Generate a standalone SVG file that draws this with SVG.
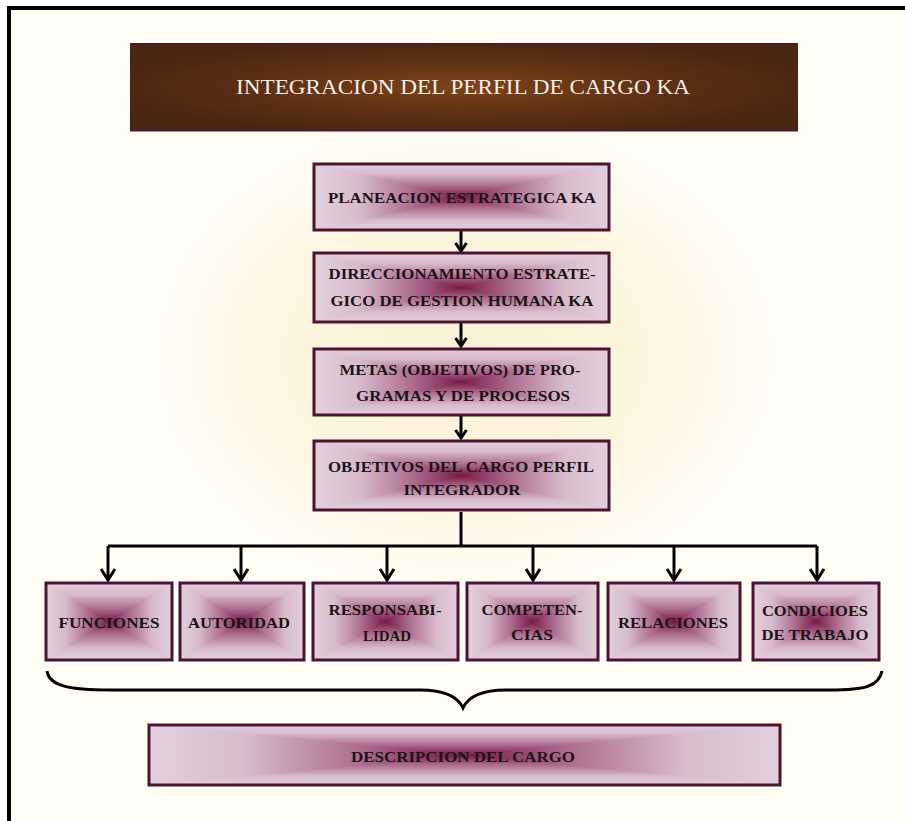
<svg xmlns="http://www.w3.org/2000/svg" width="905" height="821" viewBox="0 0 905 821">
  <defs>
    <!-- page background glow -->
    <radialGradient id="glow" cx="0.5" cy="0.5" r="0.5">
      <stop offset="0" stop-color="#fdf1d6"/>
      <stop offset="0.55" stop-color="#fdf4de"/>
      <stop offset="1" stop-color="#fffdf4"/>
    </radialGradient>
    <!-- title bar fill -->
    <radialGradient id="titleFill" cx="0.5" cy="0.5" r="0.55">
      <stop offset="0" stop-color="#7c4318"/>
      <stop offset="0.55" stop-color="#5e3014"/>
      <stop offset="1" stop-color="#4a2510"/>
    </radialGradient>
    <!-- box shading: four edge-to-centre ramps -->
    <linearGradient id="gT" x1="0" y1="0" x2="0" y2="1">
      <stop offset="0" stop-color="#e3d0dc"/>
      <stop offset="0.3" stop-color="#d8bccc"/>
      <stop offset="0.68" stop-color="#ab6a8d"/>
      <stop offset="1" stop-color="#781a49"/>
    </linearGradient>
    <linearGradient id="gB" href="#gT" x1="0" y1="1" x2="0" y2="0"/>
    <linearGradient id="gL" href="#gT" x1="0" y1="0" x2="1" y2="0"/>
    <linearGradient id="gR" href="#gT" x1="1" y1="0" x2="0" y2="0"/>
    <pattern id="boxFill" patternUnits="objectBoundingBox" patternContentUnits="objectBoundingBox" width="1" height="1">
      <polygon points="0,0 0,1 0.5,0.5" fill="url(#gL)" shape-rendering="crispEdges"/>
      <polygon points="1,0 1,1 0.5,0.5" fill="url(#gR)" shape-rendering="crispEdges"/>
      <polygon points="0,0 1,0 0.5,0.5" fill="url(#gT)" shape-rendering="crispEdges"/>
      <polygon points="0,1 1,1 0.5,0.5" fill="url(#gB)" shape-rendering="crispEdges"/>
    </pattern>
    <marker id="arrowS" markerUnits="userSpaceOnUse" viewBox="-12 -8 14 16" markerWidth="14" markerHeight="16" refX="0" refY="0" orient="auto">
      <path d="M-8,-5.5 L0,0 L-8,5.5" fill="none" stroke="#000" stroke-width="3"/>
    </marker>
    <marker id="arrowL" markerUnits="userSpaceOnUse" viewBox="-14 -9 16 18" markerWidth="16" markerHeight="18" refX="0" refY="0" orient="auto">
      <path d="M-11,-7 L0,0 L-11,7" fill="none" stroke="#000" stroke-width="3"/>
    </marker>
  </defs>
  <style>
    .box { fill: url(#boxFill); stroke: #4a1532; stroke-width: 3; }
    .lbl { font-family: "Liberation Serif", "Times New Roman", serif; font-weight: bold; font-size: 15.5px; fill: #1c1416; text-anchor: middle; }
    .title { font-family: "Liberation Serif", "Times New Roman", serif; font-size: 20px; fill: #f5eee8; text-anchor: middle; }
    .wire { fill: none; stroke: #000; stroke-width: 3; }
  </style>

  <!-- page -->
  <rect width="905" height="821" fill="#ffffff"/>
  <rect x="9" y="8" width="900" height="820" fill="#fffdf4"/>
  <rect x="160" y="120" width="610" height="470" fill="url(#glow)"/>
  <path d="M9,830 V8 H910" fill="none" stroke="#000" stroke-width="4"/>

  <!-- title -->
  <g id="title">
    <rect x="130" y="43" width="668" height="88" fill="url(#titleFill)"/>
    <line x1="130" y1="44" x2="798" y2="44" stroke="#4b1a2a" stroke-width="1.5"/>
    <line x1="130" y1="130.5" x2="798" y2="130.5" stroke="#4b1a2a" stroke-width="2"/>
    <text class="title" x="463" y="94" textLength="454" lengthAdjust="spacingAndGlyphs">INTEGRACION DEL PERFIL DE CARGO KA</text>
  </g>

  <!-- connectors -->
  <g id="connectors">
    <path class="wire" d="M461,231 V251" marker-end="url(#arrowS)"/>
    <path class="wire" d="M461,323 V346" marker-end="url(#arrowS)"/>
    <path class="wire" d="M461,416 V438" marker-end="url(#arrowS)"/>
    <path class="wire" d="M461,512 V546"/>
    <path class="wire" d="M108,546 H817"/>
    <path class="wire" d="M108,546 V580" marker-end="url(#arrowL)"/>
    <path class="wire" d="M241,546 V580" marker-end="url(#arrowL)"/>
    <path class="wire" d="M387,546 V580" marker-end="url(#arrowL)"/>
    <path class="wire" d="M533,546 V580" marker-end="url(#arrowL)"/>
    <path class="wire" d="M674,546 V580" marker-end="url(#arrowL)"/>
    <path class="wire" d="M817,546 V580" marker-end="url(#arrowL)"/>
    <!-- brace grouping the six boxes -->
    <path d="M47,671 C49,686 70,690 110,690 L420,690 C446,690 458,697 463,708 C468,697 480,690 506,690 L830,690 C866,690 879,686 882,671" fill="none" stroke="#000" stroke-width="3"/>
  </g>

  <!-- main chain -->
  <g id="planeacion">
    <rect class="box" x="314" y="164" width="295" height="66"/>
    <text class="lbl" x="462" y="203" textLength="268" lengthAdjust="spacingAndGlyphs">PLANEACION ESTRATEGICA KA</text>
  </g>
  <g id="direccionamiento">
    <rect class="box" x="314" y="253" width="295" height="69"/>
    <text class="lbl" x="462" y="279" textLength="267" lengthAdjust="spacingAndGlyphs">DIRECCIONAMIENTO ESTRATE-</text>
    <text class="lbl" x="462" y="306" textLength="263" lengthAdjust="spacingAndGlyphs">GICO DE GESTION HUMANA KA</text>
  </g>
  <g id="metas">
    <rect class="box" x="314" y="349" width="295" height="66"/>
    <text class="lbl" x="460" y="375" textLength="241" lengthAdjust="spacingAndGlyphs">METAS (OBJETIVOS) DE PRO-</text>
    <text class="lbl" x="463" y="401" textLength="214" lengthAdjust="spacingAndGlyphs">GRAMAS Y DE PROCESOS</text>
  </g>
  <g id="objetivos">
    <rect class="box" x="314" y="441" width="295" height="69"/>
    <text class="lbl" x="461" y="472" textLength="266" lengthAdjust="spacingAndGlyphs">OBJETIVOS DEL CARGO PERFIL</text>
    <text class="lbl" x="462" y="495" textLength="117" lengthAdjust="spacingAndGlyphs">INTEGRADOR</text>
  </g>

  <!-- components -->
  <g id="funciones">
    <rect class="box" x="46" y="583" width="126" height="77"/>
    <text class="lbl" x="109" y="628" textLength="101" lengthAdjust="spacingAndGlyphs">FUNCIONES</text>
  </g>
  <g id="autoridad">
    <rect class="box" x="180" y="583" width="124" height="77"/>
    <text class="lbl" x="239" y="628" textLength="102" lengthAdjust="spacingAndGlyphs">AUTORIDAD</text>
  </g>
  <g id="responsabilidad">
    <rect class="box" x="313" y="583" width="145" height="77"/>
    <text class="lbl" x="385" y="615" textLength="113" lengthAdjust="spacingAndGlyphs">RESPONSABI-</text>
    <text class="lbl" x="387" y="641" textLength="48" lengthAdjust="spacingAndGlyphs">LIDAD</text>
  </g>
  <g id="competencias">
    <rect class="box" x="467" y="583" width="131" height="77"/>
    <text class="lbl" x="532" y="615" textLength="101" lengthAdjust="spacingAndGlyphs">COMPETEN-</text>
    <text class="lbl" x="532" y="640" textLength="42" lengthAdjust="spacingAndGlyphs">CIAS</text>
  </g>
  <g id="relaciones">
    <rect class="box" x="608" y="583" width="132" height="77"/>
    <text class="lbl" x="673" y="628" textLength="110" lengthAdjust="spacingAndGlyphs">RELACIONES</text>
  </g>
  <g id="condiciones">
    <rect class="box" x="753" y="583" width="126" height="77"/>
    <text class="lbl" x="815" y="616" textLength="106" lengthAdjust="spacingAndGlyphs">CONDICIOES</text>
    <text class="lbl" x="815" y="640" textLength="107" lengthAdjust="spacingAndGlyphs">DE TRABAJO</text>
  </g>

  <!-- result -->
  <g id="descripcion">
    <rect class="box" x="149" y="725" width="631" height="60"/>
    <text class="lbl" x="463" y="762" style="font-size:15px" textLength="224" lengthAdjust="spacingAndGlyphs">DESCRIPCION DEL CARGO</text>
  </g>
</svg>
